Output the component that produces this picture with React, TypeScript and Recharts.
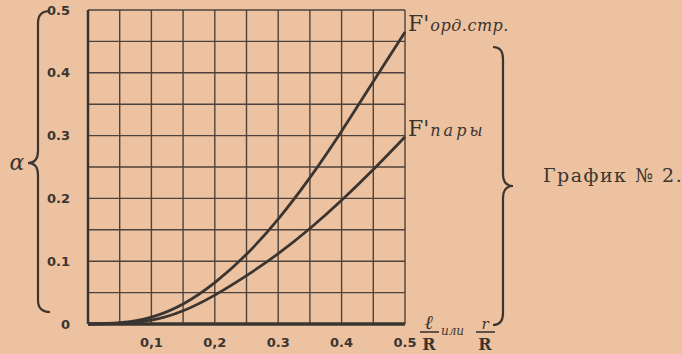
import React from 'react';
import { LineChart, Line, XAxis, YAxis, CartesianGrid, LabelList } from 'recharts';

// l/R (or r/R) along the bottom, alpha up the side
const ratio = [0, 0.05, 0.1, 0.15, 0.2, 0.25, 0.3, 0.35, 0.4, 0.45, 0.5];
const fOrdStr = [0, 0.002, 0.011, 0.032, 0.066, 0.111, 0.167, 0.233, 0.307, 0.386, 0.465];
const fPary = [0, 0.001, 0.006, 0.021, 0.046, 0.077, 0.112, 0.152, 0.197, 0.246, 0.298];

const xTicks = ratio;
const xTickLabels = ['', '', '0,1', '', '0,2', '', '0.3', '', '0.4', '', '0.5'];
const yTicks = [0, 0.05, 0.1, 0.15, 0.2, 0.25, 0.3, 0.35, 0.4, 0.45, 0.5];
const yTickLabels = ['0', '', '0.1', '', '0.2', '', '0.3', '', '0.4', '', '0.5'];

const seriesNames = ["орд.стр.", "пары"];

const PAPER = '#ecc2a0';
const INK = '#3b3531';
const GRID = '#4d433c';

const data = ratio.map((r, i) => ({ r, ord: fOrdStr[i], pary: fPary[i] }));

const endLabel = (name: string, last: number, spacing: number) => (props: any) => {
  const { x, y, index } = props;
  if (index !== last) return null;
  return (
    <text x={x + 3} y={y - 1} fill={INK} fontFamily="DejaVu Serif">
      <tspan fontSize={22}>F'</tspan>
      <tspan fontSize={16} fontStyle="italic" dx={1} letterSpacing={spacing}>{name}</tspan>
    </text>
  );
};

export default function App() {
  const last = data.length - 1;
  return (
    <div style={{ position: 'absolute', left: 0, top: 0, width: 682, height: 354, background: PAPER, overflow: 'hidden' }}>
      <LineChart width={682} height={354} data={data} margin={{ top: 10, right: 277, bottom: 0, left: 0 }}>
        <CartesianGrid stroke={GRID} strokeWidth={1.4} />
        <XAxis
          dataKey="r"
          type="number"
          domain={[0, 0.5]}
          ticks={xTicks}
          tickFormatter={(v, i) => xTickLabels[i] ?? ''}
          interval={0}
          height={30}
          tickSize={0}
          tickMargin={14}
          axisLine={{ stroke: INK, strokeWidth: 3.5 }}
          tick={{ fill: INK, fontSize: 13, fontFamily: 'DejaVu Sans', fontWeight: 'bold' }}
        />
        <YAxis
          type="number"
          domain={[0, 0.5]}
          ticks={yTicks}
          tickFormatter={(v, i) => yTickLabels[i] ?? ''}
          interval={0}
          width={88}
          tickSize={0}
          tickMargin={18}
          axisLine={{ stroke: INK, strokeWidth: 2.5 }}
          tick={{ fill: INK, fontSize: 13, fontFamily: 'DejaVu Sans', fontWeight: 'bold' }}
        />
        <Line
          dataKey="ord"
          type="natural"
          stroke={INK}
          strokeWidth={2.8}
          dot={false}
          isAnimationActive={false}
        >
          <LabelList dataKey="ord" content={endLabel(seriesNames[0], last, 0.5)} />
        </Line>
        <Line
          dataKey="pary"
          type="natural"
          stroke={INK}
          strokeWidth={2.8}
          dot={false}
          isAnimationActive={false}
        >
          <LabelList dataKey="pary" content={endLabel(seriesNames[1], last, 3)} />
        </Line>
      </LineChart>
      <svg width={682} height={354} style={{ position: 'absolute', left: 0, top: 0, pointerEvents: 'none' }}>
        <path d="M 50 11 Q 38 11 38 23 L 38 151 Q 38 163 28 163 Q 38 163 38 175 L 38 300 Q 38 312 50 312" fill="none" stroke={INK} strokeWidth={2.2} />
        <text x={17} y={170} textAnchor="middle" fontSize={22} fontStyle="italic" fontFamily="DejaVu Serif" fill={INK}>α</text>
        <path d="M 493 47 Q 503 47 503 59 L 503 174 Q 503 186 513 186 Q 503 186 503 198 L 503 313 Q 503 325 493 325" fill="none" stroke={INK} strokeWidth={2.2} />
        <text x={543} y={182} fontSize={19} letterSpacing={1.5} fontFamily="DejaVu Serif" fill={INK}>График № 2.</text>
        <text x={429} y={329} textAnchor="middle" fontSize={20} fontStyle="italic" fontWeight="bold" fontFamily="DejaVu Serif" fill={INK}>ℓ</text>
        <line x1={420} x2={439} y1={332} y2={332} stroke={INK} strokeWidth={1.6} />
        <text x={429} y={350} textAnchor="middle" fontSize={16} fontWeight="bold" fontFamily="DejaVu Serif" fill={INK}>R</text>
        <text x={441} y={335} fontSize={12} fontStyle="italic" fontFamily="DejaVu Serif" fill={INK}>или</text>
        <text x={485} y={329} textAnchor="middle" fontSize={15} fontStyle="italic" fontFamily="DejaVu Serif" fill={INK}>r</text>
        <line x1={476} x2={495} y1={332} y2={332} stroke={INK} strokeWidth={1.6} />
        <text x={485} y={350} textAnchor="middle" fontSize={16} fontWeight="bold" fontFamily="DejaVu Serif" fill={INK}>R</text>
      </svg>
    </div>
  );
}
